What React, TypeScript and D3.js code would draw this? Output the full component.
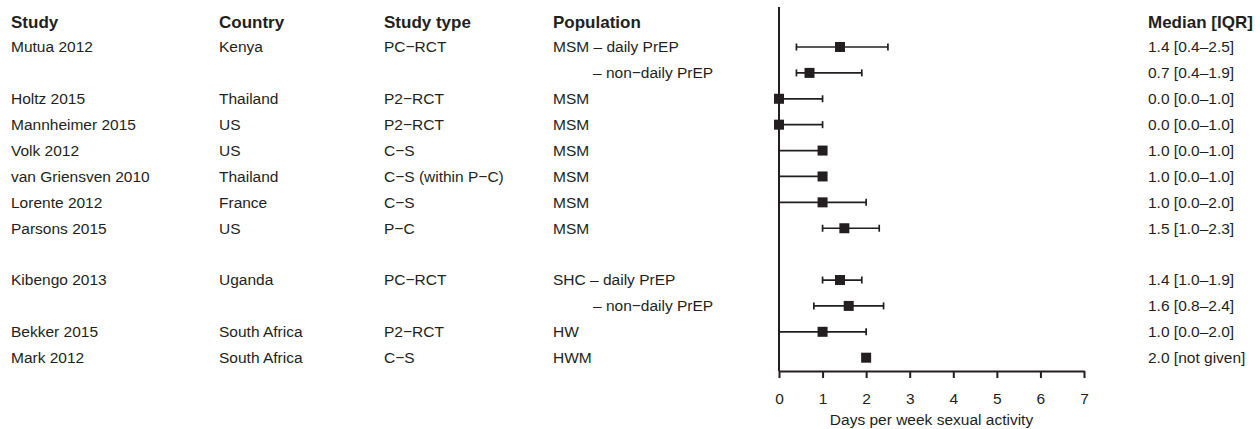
import * as d3 from 'd3';
import { useEffect, useRef } from 'react';

// rows of the table (blank row = spacer)
const studies = ['Mutua 2012', '', 'Holtz 2015', 'Mannheimer 2015', 'Volk 2012', 'van Griensven 2010', 'Lorente 2012', 'Parsons 2015', '', 'Kibengo 2013', '', 'Bekker 2015', 'Mark 2012'];
const countries = ['Kenya', '', 'Thailand', 'US', 'US', 'Thailand', 'France', 'US', '', 'Uganda', '', 'South Africa', 'South Africa'];
const studyTypes = ['PC\u2212RCT', '', 'P2\u2212RCT', 'P2\u2212RCT', 'C\u2212S', 'C\u2212S (within P\u2212C)', 'C\u2212S', 'P\u2212C', '', 'PC\u2212RCT', '', 'P2\u2212RCT', 'C\u2212S'];
const populations = ['MSM \u2013 daily PrEP', '\u2013 non\u2212daily PrEP', 'MSM', 'MSM', 'MSM', 'MSM', 'MSM', 'MSM', '', 'SHC \u2013 daily PrEP', '\u2013 non\u2212daily PrEP', 'HW', 'HWM'];
const indented = [false, true, false, false, false, false, false, false, false, false, true, false, false];
const medians = [1.4, 0.7, 0.0, 0.0, 1.0, 1.0, 1.0, 1.5, null, 1.4, 1.6, 1.0, 2.0];
const lows = [0.4, 0.4, 0.0, 0.0, 0.0, 0.0, 0.0, 1.0, null, 1.0, 0.8, 0.0, null];
const highs = [2.5, 1.9, 1.0, 1.0, 1.0, 1.0, 2.0, 2.3, null, 1.9, 2.4, 2.0, null];
const medianLabels = ['1.4 [0.4\u20132.5]', '0.7 [0.4\u20131.9]', '0.0 [0.0\u20131.0]', '0.0 [0.0\u20131.0]', '1.0 [0.0\u20131.0]', '1.0 [0.0\u20131.0]', '1.0 [0.0\u20132.0]', '1.5 [1.0\u20132.3]', '', '1.4 [1.0\u20131.9]', '1.6 [0.8\u20132.4]', '1.0 [0.0\u20132.0]', '2.0 [not given]'];
const headers = ['Study', 'Country', 'Study type', 'Population', 'Median [IQR]'];
const xTicks = [0, 1, 2, 3, 4, 5, 6, 7];

export default function App() {
  const svgRef = useRef(null);

  useEffect(() => {
    document.body.style.margin = '0';
    d3.select(svgRef.current).selectAll('*').remove();

    const width = 1260;
    const height = 429;
    const ink = '#231f20';
    const font = '"Liberation Sans", Arial, Helvetica, sans-serif';

    const x = d3.scaleLinear([0, 7], [779, 1084]);
    const y = d3.scaleLinear([0, 12], [47, 357.7]);
    const axisY = 371;
    const headerY = 22;

    const colX = [11, 219, 384, 553];
    const medX = 1148;
    const indentX = 593;

    const svg = d3.select(svgRef.current)
      .attr('viewBox', [0, 0, width, height])
      .attr('width', width)
      .attr('height', height)
      .style('display', 'block')
      .style('font-family', font);

    // headers
    svg.append('g')
      .selectAll('text')
      .data(headers)
      .join('text')
      .attr('x', (_, i) => (i < 4 ? colX[i] : medX))
      .attr('y', headerY)
      .attr('dy', '0.35em')
      .attr('font-size', 17)
      .attr('font-weight', 'bold')
      .attr('fill', ink)
      .text(d => d);

    // table columns
    const cols = [studies, countries, studyTypes];
    cols.forEach((col, c) => {
      svg.append('g')
        .selectAll('text')
        .data(col)
        .join('text')
        .attr('x', colX[c])
        .attr('y', (_, i) => y(i))
        .attr('dy', '0.35em')
        .attr('font-size', 15.5)
        .attr('fill', ink)
        .text(d => d);
    });

    svg.append('g')
      .selectAll('text')
      .data(populations)
      .join('text')
      .attr('x', (_, i) => (indented[i] ? indentX : colX[3]))
      .attr('y', (_, i) => y(i))
      .attr('dy', '0.35em')
      .attr('font-size', 15.5)
      .attr('fill', ink)
      .text(d => d);

    svg.append('g')
      .selectAll('text')
      .data(medianLabels)
      .join('text')
      .attr('x', medX)
      .attr('y', (_, i) => y(i))
      .attr('dy', '0.35em')
      .attr('font-size', 15.5)
      .attr('fill', ink)
      .text(d => d);

    // x axis
    svg.append('g')
      .attr('transform', `translate(0,${axisY})`)
      .call(d3.axisBottom(x).tickValues(xTicks).tickFormat(d3.format('d')).tickSize(7).tickSizeOuter(0).tickPadding(15))
      .call(g => g.select('.domain').attr('stroke', ink).attr('stroke-width', 2))
      .call(g => g.selectAll('.tick line').attr('stroke', ink).attr('stroke-width', 2))
      .call(g => g.selectAll('.tick text')
        .attr('fill', ink)
        .attr('font-size', 15.5)
        .attr('font-family', font));

    // y axis line
    svg.append('line')
      .attr('x1', x(0)).attr('x2', x(0))
      .attr('y1', 7).attr('y2', axisY)
      .attr('stroke', ink)
      .attr('stroke-width', 2);

    svg.append('text')
      .attr('x', (x(0) + x(7)) / 2)
      .attr('y', 420)
      .attr('dy', '0.35em')
      .attr('text-anchor', 'middle')
      .attr('font-size', 15.5)
      .attr('fill', ink)
      .text('Days per week sexual activity');

    const rows = medians.map((m, i) => ({ i, m, lo: lows[i], hi: highs[i] })).filter(d => d.m !== null);
    const ci = rows.filter(d => d.lo !== null);

    const g = svg.append('g');
    g.selectAll('line.bar')
      .data(ci)
      .join('line')
      .attr('x1', d => x(d.lo)).attr('x2', d => x(d.hi))
      .attr('y1', d => y(d.i)).attr('y2', d => y(d.i))
      .attr('stroke', ink).attr('stroke-width', 1.7);

    ci.forEach(d => {
      [d.lo, d.hi].forEach(v => {
        g.append('line')
          .attr('x1', x(v)).attr('x2', x(v))
          .attr('y1', y(d.i) - 3.5).attr('y2', y(d.i) + 3.5)
          .attr('stroke', ink).attr('stroke-width', 1.7);
      });
    });

    g.selectAll('rect')
      .data(rows)
      .join('rect')
      .attr('x', d => x(d.m) - 5)
      .attr('y', d => y(d.i) - 5)
      .attr('width', 10)
      .attr('height', 10)
      .attr('fill', ink);
  }, []);

  return <svg ref={svgRef} />;
}
